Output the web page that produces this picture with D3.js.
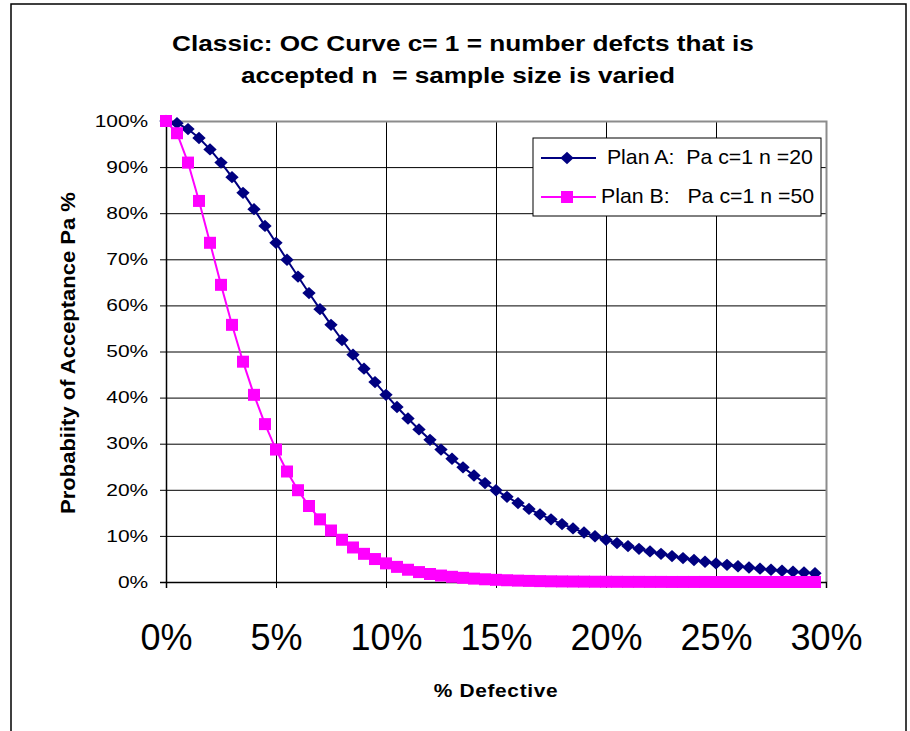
<!DOCTYPE html>
<html>
<head>
<meta charset="utf-8">
<script src="https://cdn.jsdelivr.net/npm/d3@7"></script>
<style>
  body { margin: 0; background: #fff; }
  svg { display: block; font-family: "Liberation Sans", Arial, sans-serif; }
  text { white-space: pre; }
</style>
</head>
<body>
<div id="chart"></div>
<script>
// % defective (x) and probability of acceptance for each plan
var pctDefective = [0, 0.005, 0.01, 0.015, 0.02, 0.025, 0.03, 0.035, 0.04, 0.045,
    0.05, 0.055, 0.06, 0.065, 0.07, 0.075, 0.08, 0.085, 0.09, 0.095,
    0.10, 0.105, 0.11, 0.115, 0.12, 0.125, 0.13, 0.135, 0.14, 0.145,
    0.15, 0.155, 0.16, 0.165, 0.17, 0.175, 0.18, 0.185, 0.19, 0.195,
    0.20, 0.205, 0.21, 0.215, 0.22, 0.225, 0.23, 0.235, 0.24, 0.245,
    0.25, 0.255, 0.26, 0.265, 0.27, 0.275, 0.28, 0.285, 0.29, 0.295];

var planA = [1.0000, 0.9953, 0.9825, 0.9631, 0.9384, 0.9098, 0.8781, 0.8442, 0.8088, 0.7725,
    0.7358, 0.6990, 0.6626, 0.6268, 0.5918, 0.5578, 0.5249, 0.4932, 0.4628, 0.4337,
    0.4060, 0.3796, 0.3546, 0.3309, 0.3084, 0.2873, 0.2674, 0.2487, 0.2311, 0.2146,
    0.1991, 0.1847, 0.1712, 0.1586, 0.1468, 0.1359, 0.1257, 0.1162, 0.1074, 0.0992,
    0.0916, 0.0845, 0.0780, 0.0719, 0.0663, 0.0611, 0.0563, 0.0518, 0.0477, 0.0439,
    0.0404, 0.0372, 0.0342, 0.0315, 0.0289, 0.0266, 0.0244, 0.0224, 0.0206, 0.0189];

var planB = [1.0000, 0.9735, 0.9098, 0.8266, 0.7358, 0.6446, 0.5578, 0.4779, 0.4060, 0.3425,
    0.2873, 0.2397, 0.1991, 0.1648, 0.1359, 0.1117, 0.0916, 0.0749, 0.0611, 0.0498,
    0.0404, 0.0328, 0.0266, 0.0215, 0.0174, 0.0140, 0.0113, 0.0091, 0.0073, 0.0059,
    0.0047, 0.0038, 0.0030, 0.0024, 0.0019, 0.0015, 0.0012, 0.0010, 0.0008, 0.0006,
    0.0005, 0.0004, 0.0003, 0.0003, 0.0002, 0.0002, 0.0001, 0.0001, 0.0001, 0.0001,
    0.0000, 0.0000, 0.0000, 0.0000, 0.0000, 0.0000, 0.0000, 0.0000, 0.0000, 0.0000];

var seriesNames = [" Plan A:  Pa c=1 n =20", "Plan B:   Pa c=1 n =50"];
var xTicks = [0, 0.05, 0.10, 0.15, 0.20, 0.25, 0.30];
var yTicks = [0, 0.1, 0.2, 0.3, 0.4, 0.5, 0.6, 0.7, 0.8, 0.9, 1.0];
var titleLines = ["Classic: OC Curve c= 1 = number defcts that is", "accepted n  = sample size is varied"];

var W = 910, H = 731;
var margin = {top: 121, right: 84, bottom: 149, left: 166};
var width = W - margin.left - margin.right,   // 660
    height = H - margin.top - margin.bottom;  // 461

var svg = d3.select("#chart").append("svg")
    .attr("width", W)
    .attr("height", H);

// outer chart frame
svg.append("rect")
    .attr("x", 11).attr("y", 4)
    .attr("width", 895).attr("height", 740)
    .attr("fill", "#fff")
    .attr("stroke", "#000")
    .attr("stroke-width", 1.5);

// title (Excel draws it a bit wider than the font, hence the scale)
var titleX = [463, 458];
titleLines.forEach(function(t, i) {
    svg.append("text")
        .attr("transform", "translate(" + titleX[i] + "," + (51 + i * 32) + ") scale(1.19,1)")
        .attr("text-anchor", "middle")
        .attr("font-size", 22)
        .attr("font-weight", "bold")
        .text(t);
});

var g = svg.append("g")
    .attr("transform", "translate(" + margin.left + "," + margin.top + ")");

var x = d3.scaleLinear().domain([0, 0.30]).range([0, width]);
var y = d3.scaleLinear().domain([0, 1]).range([height, 0]);

// gridlines
g.append("g")
    .attr("class", "grid")
    .call(d3.axisLeft(y).tickValues(yTicks).tickSize(-width).tickFormat(""))
    .call(function(s) { s.select(".domain").remove(); })
    .selectAll("line").attr("stroke", "#000");

g.append("g")
    .attr("class", "grid")
    .call(d3.axisBottom(x).tickValues(xTicks).tickSize(height).tickFormat(""))
    .call(function(s) { s.select(".domain").remove(); })
    .selectAll("line").attr("stroke", "#000");

// plot area border (grey top / right)
g.append("path")
    .attr("d", "M0,0.5H" + (width + 0.5) + "V" + height)
    .attr("fill", "none")
    .attr("stroke", "#8c8c8c")
    .attr("stroke-width", 2);

// y axis
var yAxis = g.append("g")
    .call(d3.axisLeft(y).tickValues(yTicks).tickSize(6).tickPadding(8).tickFormat(d3.format(".0%")));
yAxis.select(".domain").attr("stroke", "#000").attr("stroke-width", 1.5);
yAxis.selectAll("text")
    .attr("fill", "#000")
    .attr("font-size", 16.5)
    .attr("font-family", "Liberation Sans, Arial, sans-serif")
    .attr("transform", "scale(1.27,1)");

// x axis
var xAxis = g.append("g")
    .attr("transform", "translate(0," + height + ")")
    .call(d3.axisBottom(x).tickValues(xTicks).tickSize(6).tickPadding(36).tickFormat(d3.format(".0%")));
xAxis.select(".domain").attr("stroke", "#000").attr("stroke-width", 1.5);
xAxis.selectAll("text")
    .attr("fill", "#000")
    .attr("font-size", 36)
    .attr("font-family", "Liberation Sans, Arial, sans-serif");

// axis titles
svg.append("text")
    .attr("transform", "translate(" + (margin.left + width / 2) + ",697) scale(1.1,1)")
    .attr("text-anchor", "middle")
    .attr("font-size", 19)
    .attr("font-weight", "bold")
    .attr("letter-spacing", 0.6)
    .text("% Defective");

svg.append("text")
    .attr("transform", "translate(75,353) rotate(-90) scale(1.1,1)")
    .attr("text-anchor", "middle")
    .attr("font-size", 20)
    .attr("font-weight", "bold")
    .text("Probabiity of Acceptance Pa %");

// series
var line = d3.line()
    .x(function(d) { return x(d[0]); })
    .y(function(d) { return y(d[1]); });

// Excel-style diamond: about as wide as it is tall
var excelDiamond = {
    draw: function(ctx, size) {
        var r = Math.sqrt(size / 2);
        ctx.moveTo(0, -r);
        ctx.lineTo(r * 1.08, 0);
        ctx.lineTo(0, r);
        ctx.lineTo(-r * 1.08, 0);
        ctx.closePath();
    }
};
var diamond = d3.symbol().type(excelDiamond).size(76);
var square = d3.symbol().type(d3.symbolSquare).size(144);

var series = [
    {name: seriesNames[0], values: planA, color: "#000080", symbol: diamond},
    {name: seriesNames[1], values: planB, color: "#ff00ff", symbol: square}
];

series.forEach(function(s) {
    var pts = pctDefective.map(function(p, i) { return [p, s.values[i]]; });
    g.append("path")
        .datum(pts)
        .attr("fill", "none")
        .attr("stroke", s.color)
        .attr("stroke-width", 2)
        .attr("d", line);
    g.selectAll(null)
        .data(pts)
        .enter().append("path")
        .attr("d", s.symbol)
        .attr("transform", function(d) { return "translate(" + x(d[0]) + "," + y(d[1]) + ")"; })
        .attr("fill", s.color);
});

// legend
var legend = svg.append("g").attr("transform", "translate(533,138)");
legend.append("rect")
    .attr("width", 288).attr("height", 78)
    .attr("fill", "#fff")
    .attr("stroke", "#000")
    .attr("stroke-width", 1);

series.forEach(function(s, i) {
    var ly = 20 + i * 39;
    legend.append("line")
        .attr("x1", 8).attr("x2", 63)
        .attr("y1", ly).attr("y2", ly)
        .attr("stroke", s.color)
        .attr("stroke-width", 2);
    legend.append("path")
        .attr("d", s.symbol)
        .attr("transform", "translate(34," + ly + ")")
        .attr("fill", s.color);
    legend.append("text")
        .attr("transform", "translate(68," + (ly + 6) + ") scale(1.065,1)")
        .attr("font-size", 20)
        .attr("fill", "#000")
        .text(s.name);
});
</script>
</body>
</html>
